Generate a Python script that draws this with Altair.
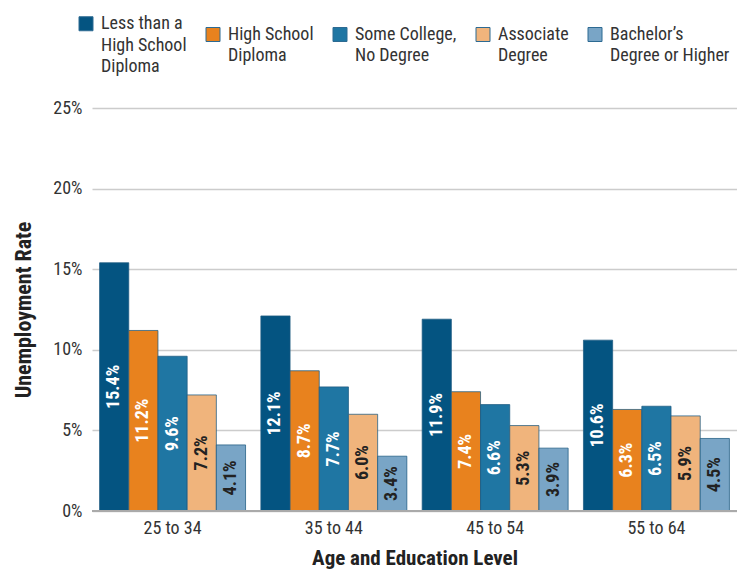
import altair as alt
import pandas as pd

# Age groups and education levels
ages = ["25 to 34", "35 to 44", "45 to 54", "55 to 64"]
levels = [
    "Less than a\nHigh School\nDiploma",
    "High School\nDiploma",
    "Some College,\nNo Degree",
    "Associate\nDegree",
    "Bachelor\u2019s\nDegree or Higher",
]

# Unemployment rate (%) per education level, one value per age group
less_than_hs = [15.4, 12.1, 11.9, 10.6]
high_school = [11.2, 8.7, 7.4, 6.3]
some_college = [9.6, 7.7, 6.6, 6.5]
associate = [7.2, 6.0, 5.3, 5.9]
bachelors = [4.1, 3.4, 3.9, 4.5]

series = [less_than_hs, high_school, some_college, associate, bachelors]
colors = ["#045481", "#e8821e", "#1f76a3", "#f0b47c", "#79a5c6"]

rows = []
for level, vals in zip(levels, series):
    for age, v in zip(ages, vals):
        rows.append({"age": age, "level": level, "rate": v})
df = pd.DataFrame(rows)

FONT = "Liberation Sans Narrow, Roboto Condensed, DejaVu Sans Condensed, Arial Narrow, sans-serif"

# square swatch dropped below its anchor so it sits level with the first label line
SWATCH = "M-1,0.25L1,0.25L1,2.25L-1,2.25Z"

x_enc = alt.X(
    "age:N",
    sort=ages,
    scale=alt.Scale(paddingInner=0.095, paddingOuter=0.047),
    axis=alt.Axis(
        title="Age and Education Level",
        labelAngle=0,
        labelFontSize=18,
        labelColor="#333333",
        labelPadding=8,
        ticks=False,
        domain=False,
        titleFontSize=21,
        titleFontWeight="bold",
        titleColor="#222222",
        titlePadding=10,
    ),
)
xoff = alt.XOffset("level:N", sort=levels, scale=alt.Scale(paddingInner=0, paddingOuter=0))
y_scale = alt.Scale(domain=[0, 25])

bars = alt.Chart(df).mark_bar(
    stroke="#1d5b82", strokeWidth=1, strokeOpacity=0.75
).encode(
    x=x_enc,
    xOffset=xoff,
    y=alt.Y(
        "rate:Q",
        scale=y_scale,
        axis=alt.Axis(
            title="Unemployment Rate",
            values=[0, 5, 10, 15, 20, 25],
            labelExpr="datum.value + '%'",
            labelFontSize=18,
            labelColor="#333333",
            labelPadding=10,
            ticks=False,
            domain=False,
            grid=True,
            gridColor="#cccccc",
            gridWidth=1.5,
            titleFontSize=22,
            titleFontWeight="bold",
            titleColor="#222222",
            titlePadding=17,
        ),
    ),
    color=alt.Color(
        "level:N",
        sort=levels,
        scale=alt.Scale(domain=levels, range=colors),
        legend=alt.Legend(
            title=None,
            orient="none",
            legendX=-15,
            legendY=-102,
            direction="horizontal",
            columns=5,
            columnPadding=17,
            labelExpr="split(datum.label, '\\n')",
            labelFontSize=18,
            labelColor="#333333",
            labelBaseline="top",
            labelOffset=6,
            labelLimit=300,
            symbolType=SWATCH,
            symbolSize=196,
            symbolStrokeColor="#2d6a92",
            symbolStrokeWidth=1,
            symbolOpacity=1,
        ),
    ),
)

baseline = alt.Chart(pd.DataFrame({"v": [0]})).mark_rule(
    color="#aaaaaa", strokeWidth=2
).encode(y=alt.Y("v:Q", scale=y_scale))

labels = alt.Chart(df).transform_calculate(
    mid="datum.rate / 2",
    txt="format(datum.rate, '.1f') + '%'",
).mark_text(
    angle=270, fontSize=18, fontWeight="bold", baseline="middle", align="center"
).encode(
    x=alt.X("age:N", sort=ages),
    xOffset=alt.XOffset("level:N", sort=levels),
    y=alt.Y("mid:Q", scale=y_scale),
    text="txt:N",
    color=alt.condition(
        alt.FieldOneOfPredicate(field="level", oneOf=[levels[3], levels[4]]),
        alt.value("#222222"),
        alt.value("white"),
    ),
)

chart = alt.layer(bars, baseline, labels).properties(
    width=645,
    height=403,
    autosize=alt.AutoSizeParams(type="none"),
    padding={"left": 92, "top": 108, "right": 0, "bottom": 58},
).configure(
    font=FONT,
    style={"guide-label": {"lineHeight": 21.5}},
).configure_view(
    stroke=None,
)

chart.save("out.html", embed_options={"renderer": "svg", "actions": False})
